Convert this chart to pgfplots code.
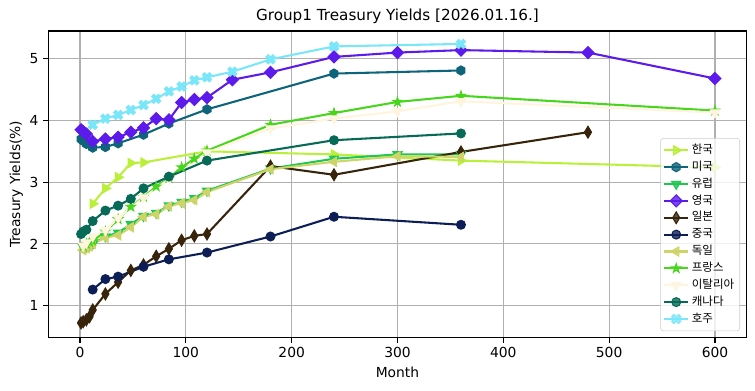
\documentclass[border=0pt]{standalone}
\usepackage{fontspec}
\setmainfont{DejaVu Sans}
\newfontfamily\kr{Noto Sans CJK KR}
\usepackage{pgfplots}
\pgfplotsset{compat=1.18}
\definecolor{cKR}{RGB}{186,240,58}
\definecolor{cUS}{RGB}{14,100,122}
\definecolor{cEU}{RGB}{30,200,80}
\definecolor{cUK}{RGB}{92,26,235}
\definecolor{cJP}{RGB}{56,36,10}
\definecolor{cCN}{RGB}{12,30,85}
\definecolor{cDE}{RGB}{206,212,104}
\definecolor{cFR}{RGB}{72,214,28}
\definecolor{cIT}{RGB}{255,244,222}
\definecolor{cCA}{RGB}{6,106,86}
\definecolor{cAU}{RGB}{122,230,250}
\pgfdeclareplotmark{hexa*}{%
 \pgfpathmoveto{\pgfpointpolar{90}{\pgfplotmarksize}}%
 \pgfpathlineto{\pgfpointpolar{150}{\pgfplotmarksize}}%
 \pgfpathlineto{\pgfpointpolar{210}{\pgfplotmarksize}}%
 \pgfpathlineto{\pgfpointpolar{270}{\pgfplotmarksize}}%
 \pgfpathlineto{\pgfpointpolar{330}{\pgfplotmarksize}}%
 \pgfpathlineto{\pgfpointpolar{30}{\pgfplotmarksize}}%
 \pgfpathclose\pgfusepathqfillstroke}
\pgfdeclareplotmark{fstar}{%
 \pgfpathmoveto{\pgfpointpolar{90}{\pgfplotmarksize}}%
 \pgfpathlineto{\pgfpointpolar{126}{0.382\pgfplotmarksize}}%
 \pgfpathlineto{\pgfpointpolar{162}{\pgfplotmarksize}}%
 \pgfpathlineto{\pgfpointpolar{198}{0.382\pgfplotmarksize}}%
 \pgfpathlineto{\pgfpointpolar{234}{\pgfplotmarksize}}%
 \pgfpathlineto{\pgfpointpolar{270}{0.382\pgfplotmarksize}}%
 \pgfpathlineto{\pgfpointpolar{306}{\pgfplotmarksize}}%
 \pgfpathlineto{\pgfpointpolar{342}{0.382\pgfplotmarksize}}%
 \pgfpathlineto{\pgfpointpolar{18}{\pgfplotmarksize}}%
 \pgfpathlineto{\pgfpointpolar{54}{0.382\pgfplotmarksize}}%
 \pgfpathclose\pgfusepathqfillstroke}
\pgfdeclareplotmark{fX}{%
 \pgftransformrotate{45}%
 \pgfpathmoveto{\pgfpoint{0.333\pgfplotmarksize}{\pgfplotmarksize}}%
 \pgfpathlineto{\pgfpoint{0.333\pgfplotmarksize}{0.333\pgfplotmarksize}}%
 \pgfpathlineto{\pgfpoint{\pgfplotmarksize}{0.333\pgfplotmarksize}}%
 \pgfpathlineto{\pgfpoint{\pgfplotmarksize}{-0.333\pgfplotmarksize}}%
 \pgfpathlineto{\pgfpoint{0.333\pgfplotmarksize}{-0.333\pgfplotmarksize}}%
 \pgfpathlineto{\pgfpoint{0.333\pgfplotmarksize}{-\pgfplotmarksize}}%
 \pgfpathlineto{\pgfpoint{-0.333\pgfplotmarksize}{-\pgfplotmarksize}}%
 \pgfpathlineto{\pgfpoint{-0.333\pgfplotmarksize}{-0.333\pgfplotmarksize}}%
 \pgfpathlineto{\pgfpoint{-\pgfplotmarksize}{-0.333\pgfplotmarksize}}%
 \pgfpathlineto{\pgfpoint{-\pgfplotmarksize}{0.333\pgfplotmarksize}}%
 \pgfpathlineto{\pgfpoint{-0.333\pgfplotmarksize}{0.333\pgfplotmarksize}}%
 \pgfpathlineto{\pgfpoint{-0.333\pgfplotmarksize}{\pgfplotmarksize}}%
 \pgfpathclose\pgfusepathqfillstroke}
\begin{document}
\begin{tikzpicture}
\begin{axis}[name=ax,
  scale only axis, width=6.99in, height=3.07in,
  xmin=-30, xmax=630, ymin=0.48, ymax=5.45,
  xtick={0,100,...,600}, ytick={1,2,3,4,5},
  xtick pos=left, ytick pos=left, tick align=outside,
  major tick length=3.5pt,
  tick style={black, line width=0.8pt},
  axis line style={line width=0.8pt},
  grid=major, major grid style={color=black!31, line width=0.8pt},
  /pgf/number format/assume math mode=true,
  ticklabel style={font=\fontsize{10}{12}\selectfont},
  xlabel={Month}, ylabel={Treasury Yields(\%)},
  label style={font=\fontsize{10}{12}\selectfont},
  ylabel style={yshift=-2pt},
  title={Group1 Treasury Yields [2026.01.16.]},
  title style={font=\fontsize{11}{13}\selectfont, yshift=-4pt},
  every axis plot/.append style={line width=1.5pt},
  legend cell align=left,
  legend style={at={(1,0)}, anchor=south east, xshift=-0.067in, yshift=0.066in,
    draw=black!20, rounded corners=2pt, fill=white, fill opacity=0.8, text opacity=1,
    font=\kr\fontsize{8.33}{10}\selectfont, row sep=0pt,
    nodes={inner ysep=2.1pt, text height=6.3pt, text depth=1.7pt},
    inner xsep=2pt, inner ysep=2.5pt},
]
\addplot[color=cKR, mark=triangle*, mark size=3.8pt, mark options={solid, fill=cKR, line width=0.8pt, rotate=-90}]
 coordinates {(12,2.65) (24,2.90) (36,3.08) (48,3.31) (60,3.32) (120,3.50) (240,3.45) (360,3.35) (600,3.24)};
\addlegendentry{한국}
\addplot[color=cUS, mark=hexa*, mark size=3.3pt, mark options={solid, fill=cUS, line width=0.8pt}]
 coordinates {(1,3.70) (2,3.69) (3,3.67) (4,3.66) (6,3.62) (12,3.56) (24,3.57) (36,3.63) (60,3.77) (84,3.95) (120,4.18) (240,4.76) (360,4.81)};
\addlegendentry{미국}
\addplot[color=cEU, mark=triangle*, mark size=3.8pt, mark options={solid, fill=cEU, line width=0.8pt, rotate=180}]
 coordinates {(3,1.95) (6,1.95) (9,1.97) (12,2.00) (24,2.12) (36,2.18) (48,2.32) (60,2.45) (72,2.50) (84,2.62) (96,2.68) (108,2.74) (120,2.86) (180,3.22) (240,3.38) (300,3.45) (360,3.45)};
\addlegendentry{유럽}
\addplot[color=cUK, mark=diamond*, mark size=4.3pt, mark options={solid, fill=cUK, line width=0.8pt, xscale=1.333}]
 coordinates {(1,3.85) (3,3.82) (6,3.78) (12,3.66) (24,3.70) (36,3.73) (48,3.81) (60,3.88) (72,4.03) (84,4.01) (96,4.29) (108,4.34) (120,4.37) (144,4.66) (180,4.78) (240,5.03) (300,5.10) (360,5.14) (480,5.10) (600,4.68)};
\addlegendentry{영국}
\addplot[color=cJP, mark=diamond*, mark size=4.25pt, mark options={solid, fill=cJP, line width=0.8pt, xscale=0.8}]
 coordinates {(1,0.72) (3,0.74) (6,0.77) (9,0.82) (12,0.93) (24,1.19) (36,1.38) (48,1.57) (60,1.66) (72,1.80) (84,1.92) (96,2.06) (108,2.13) (120,2.16) (180,3.26) (240,3.12) (360,3.49) (480,3.81)};
\addlegendentry{일본}
\addplot[color=cCN, mark=*, mark size=3.2pt, mark options={solid, fill=cCN, line width=0.8pt}]
 coordinates {(12,1.26) (24,1.43) (36,1.47) (60,1.63) (84,1.75) (120,1.86) (180,2.12) (240,2.44) (360,2.31)};
\addlegendentry{중국}
\addplot[color=cDE, mark=triangle*, mark size=3.8pt, mark options={solid, fill=cDE, line width=0.8pt, rotate=90}]
 coordinates {(3,1.90) (6,1.93) (9,1.96) (12,2.00) (24,2.10) (36,2.14) (48,2.27) (60,2.44) (72,2.48) (84,2.61) (96,2.66) (108,2.71) (120,2.84) (180,3.21) (240,3.33) (300,3.42) (360,3.41)};
\addlegendentry{독일}
\addplot[color=cFR, mark=fstar, mark size=3.4pt, mark options={solid, fill=cFR, line width=0.8pt}]
 coordinates {(3,1.96) (6,2.00) (9,2.03) (12,2.05) (24,2.20) (36,2.40) (48,2.60) (60,2.76) (72,2.93) (84,3.07) (96,3.24) (108,3.38) (120,3.51) (180,3.93) (240,4.12) (300,4.30) (360,4.40) (600,4.16)};
\addlegendentry{프랑스}
\addplot[color=cIT, mark=triangle*, mark size=3.8pt, mark options={solid, fill=cIT, line width=0.8pt, rotate=180}]
 coordinates {(3,1.97) (6,2.02) (12,2.12) (24,2.22) (36,2.42) (60,2.75) (84,3.05) (120,3.48) (180,3.87) (240,4.03) (300,4.15) (360,4.31) (600,4.13)};
\addlegendentry{이탈리아}
\addplot[color=cCA, mark=*, mark size=3.2pt, mark options={solid, fill=cCA, line width=0.8pt}]
 coordinates {(1,2.16) (3,2.20) (6,2.23) (12,2.37) (24,2.54) (36,2.62) (48,2.73) (60,2.90) (84,3.09) (120,3.35) (240,3.68) (360,3.79)};
\addlegendentry{캐나다}
\addplot[color=cAU, mark=fX, mark size=3.6pt, mark options={solid, fill=cAU, line width=0.6pt}]
 coordinates {(12,3.93) (24,4.03) (36,4.09) (48,4.17) (60,4.25) (72,4.35) (84,4.47) (96,4.55) (108,4.65) (120,4.70) (144,4.79) (180,4.99) (240,5.20) (360,5.24)};
\addlegendentry{호주}
\end{axis}
\pgfresetboundingbox
\path[use as bounding box] ([xshift=-0.483in,yshift=-0.527in]ax.south west) rectangle ([xshift=0.083in,yshift=0.31in]ax.north east);
\end{tikzpicture}
\end{document}
